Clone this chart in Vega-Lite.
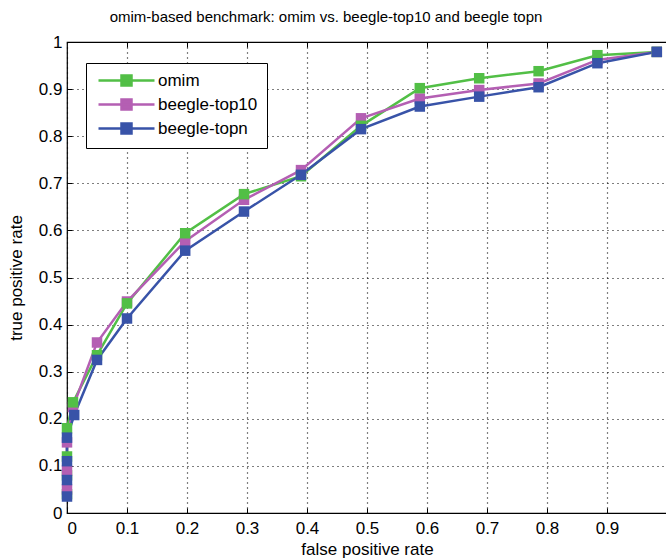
{
  "$schema": "https://vega.github.io/schema/vega-lite/v6.json",
  "width": 600,
  "height": 471,
  "autosize": {"type": "none"},
  "padding": {"left": 67, "top": 42, "right": 0, "bottom": 47},
  "background": "white",
  "title": {
    "text": "omim-based benchmark: omim vs. beegle-top10 and beegle topn",
    "font": "Liberation Sans",
    "fontSize": 15,
    "fontWeight": "normal",
    "color": "black",
    "anchor": "middle",
    "dx": -41,
    "offset": 8
  },
  "config": {
    "view": {"stroke": "black", "strokeWidth": 1.2},
    "font": "Liberation Sans"
  },
  "data": {
    "values": [
      {"series": "omim", "i": 1, "fpr": 0, "tpr": 0.04},
      {"series": "omim", "i": 2, "fpr": 0, "tpr": 0.08},
      {"series": "omim", "i": 3, "fpr": 0, "tpr": 0.12},
      {"series": "omim", "i": 4, "fpr": 0, "tpr": 0.18},
      {"series": "omim", "i": 5, "fpr": 0.01, "tpr": 0.235},
      {"series": "omim", "i": 6, "fpr": 0.05, "tpr": 0.335},
      {"series": "omim", "i": 7, "fpr": 0.1, "tpr": 0.445},
      {"series": "omim", "i": 8, "fpr": 0.197, "tpr": 0.594},
      {"series": "omim", "i": 9, "fpr": 0.295, "tpr": 0.677},
      {"series": "omim", "i": 10, "fpr": 0.39, "tpr": 0.715},
      {"series": "omim", "i": 11, "fpr": 0.49, "tpr": 0.822},
      {"series": "omim", "i": 12, "fpr": 0.588, "tpr": 0.902},
      {"series": "omim", "i": 13, "fpr": 0.687, "tpr": 0.923},
      {"series": "omim", "i": 14, "fpr": 0.786, "tpr": 0.938},
      {"series": "omim", "i": 15, "fpr": 0.884, "tpr": 0.972},
      {"series": "omim", "i": 16, "fpr": 0.983, "tpr": 0.979},
      {"series": "beegle-top10", "i": 1, "fpr": 0, "tpr": 0.05},
      {"series": "beegle-top10", "i": 2, "fpr": 0, "tpr": 0.09},
      {"series": "beegle-top10", "i": 3, "fpr": 0, "tpr": 0.15},
      {"series": "beegle-top10", "i": 4, "fpr": 0.01, "tpr": 0.225},
      {"series": "beegle-top10", "i": 5, "fpr": 0.05, "tpr": 0.362},
      {"series": "beegle-top10", "i": 6, "fpr": 0.1, "tpr": 0.449},
      {"series": "beegle-top10", "i": 7, "fpr": 0.197, "tpr": 0.577},
      {"series": "beegle-top10", "i": 8, "fpr": 0.295, "tpr": 0.665},
      {"series": "beegle-top10", "i": 9, "fpr": 0.39, "tpr": 0.728},
      {"series": "beegle-top10", "i": 10, "fpr": 0.49, "tpr": 0.838},
      {"series": "beegle-top10", "i": 11, "fpr": 0.588, "tpr": 0.88},
      {"series": "beegle-top10", "i": 12, "fpr": 0.687, "tpr": 0.898},
      {"series": "beegle-top10", "i": 13, "fpr": 0.786, "tpr": 0.912},
      {"series": "beegle-top10", "i": 14, "fpr": 0.884, "tpr": 0.962},
      {"series": "beegle-top10", "i": 15, "fpr": 0.983, "tpr": 0.979},
      {"series": "beegle-topn", "i": 1, "fpr": 0, "tpr": 0.035},
      {"series": "beegle-topn", "i": 2, "fpr": 0, "tpr": 0.07},
      {"series": "beegle-topn", "i": 3, "fpr": 0, "tpr": 0.11},
      {"series": "beegle-topn", "i": 4, "fpr": 0, "tpr": 0.16},
      {"series": "beegle-topn", "i": 5, "fpr": 0.012, "tpr": 0.208},
      {"series": "beegle-topn", "i": 6, "fpr": 0.05, "tpr": 0.325},
      {"series": "beegle-topn", "i": 7, "fpr": 0.1, "tpr": 0.413},
      {"series": "beegle-topn", "i": 8, "fpr": 0.197, "tpr": 0.557},
      {"series": "beegle-topn", "i": 9, "fpr": 0.295, "tpr": 0.64},
      {"series": "beegle-topn", "i": 10, "fpr": 0.39, "tpr": 0.718},
      {"series": "beegle-topn", "i": 11, "fpr": 0.49, "tpr": 0.815},
      {"series": "beegle-topn", "i": 12, "fpr": 0.588, "tpr": 0.863},
      {"series": "beegle-topn", "i": 13, "fpr": 0.687, "tpr": 0.884},
      {"series": "beegle-topn", "i": 14, "fpr": 0.786, "tpr": 0.904},
      {"series": "beegle-topn", "i": 15, "fpr": 0.884, "tpr": 0.955},
      {"series": "beegle-topn", "i": 16, "fpr": 0.983, "tpr": 0.979}
    ]
  },
  "layer": [
    {
      "mark": {
        "type": "line",
        "strokeWidth": 2.5,
        "point": {"shape": "square", "size": 110, "filled": true, "opacity": 1}
      },
      "encoding": {
        "x": {
          "field": "fpr",
          "type": "quantitative",
          "scale": {"domain": [0, 1], "nice": false},
          "axis": {
            "values": [0, 0.1, 0.2, 0.3, 0.4, 0.5, 0.6, 0.7, 0.8, 0.9],
            "format": "~g",
            "title": "false positive rate",
            "titleFont": "Liberation Sans",
            "titleFontSize": 17,
            "titleFontWeight": "normal",
            "titleColor": "black",
            "titlePadding": 5,
            "labelFont": "Liberation Sans",
            "labelFontSize": 17,
            "labelColor": "black",
            "labelPadding": 12,
            "domain": false,
            "ticks": true,
            "tickSize": -5,
            "tickColor": "black",
            "grid": true,
            "gridColor": "black",
            "gridDash": [1, 4],
            "gridOpacity": 1,
            "gridWidth": 1.2
          }
        },
        "y": {
          "field": "tpr",
          "type": "quantitative",
          "scale": {"domain": [0, 1], "nice": false},
          "axis": {
            "values": [0, 0.1, 0.2, 0.3, 0.4, 0.5, 0.6, 0.7, 0.8, 0.9, 1],
            "format": "~g",
            "title": "true positive rate",
            "titleFont": "Liberation Sans",
            "titleFontSize": 17,
            "titleFontWeight": "normal",
            "titleColor": "black",
            "titlePadding": 13,
            "labelFont": "Liberation Sans",
            "labelFontSize": 17,
            "labelColor": "black",
            "labelPadding": 10,
            "domain": false,
            "ticks": true,
            "tickSize": -5,
            "tickColor": "black",
            "grid": true,
            "gridColor": "black",
            "gridDash": [1, 4],
            "gridOpacity": 1,
            "gridWidth": 1.2
          }
        },
        "color": {
          "field": "series",
          "type": "nominal",
          "scale": {
            "domain": ["omim", "beegle-top10", "beegle-topn"],
            "range": ["#52bf46", "#b45fb3", "#3853a8"]
          },
          "legend": {
            "title": null,
            "orient": "none",
            "legendX": 19,
            "legendY": 21,
            "fillColor": "white",
            "strokeColor": "black",
            "cornerRadius": 0,
            "padding": 9,
            "symbolType": "M-5.6,0H5.6M-1,-1H1V1H-1Z",
            "symbolSize": 100,
            "symbolStrokeWidth": 2.5,
            "symbolOffset": 23,
            "labelOffset": 23,
            "labelFont": "Liberation Sans",
            "labelFontSize": 17,
            "labelColor": "black",
            "rowPadding": 3
          }
        },
        "order": {"field": "i", "type": "quantitative"}
      }
    },
    {
      "mark": {"type": "rule", "opacity": 0},
      "encoding": {
        "x": {
          "field": "fpr",
          "type": "quantitative",
          "axis": {
            "orient": "top",
            "values": [0.1, 0.2, 0.3, 0.4, 0.5, 0.6, 0.7, 0.8, 0.9],
            "labels": false,
            "title": null,
            "domain": false,
            "grid": false,
            "ticks": true,
            "tickSize": -5,
            "tickColor": "black"
          }
        }
      }
    }
  ],
  "resolve": {"axis": {"x": "independent"}}
}
